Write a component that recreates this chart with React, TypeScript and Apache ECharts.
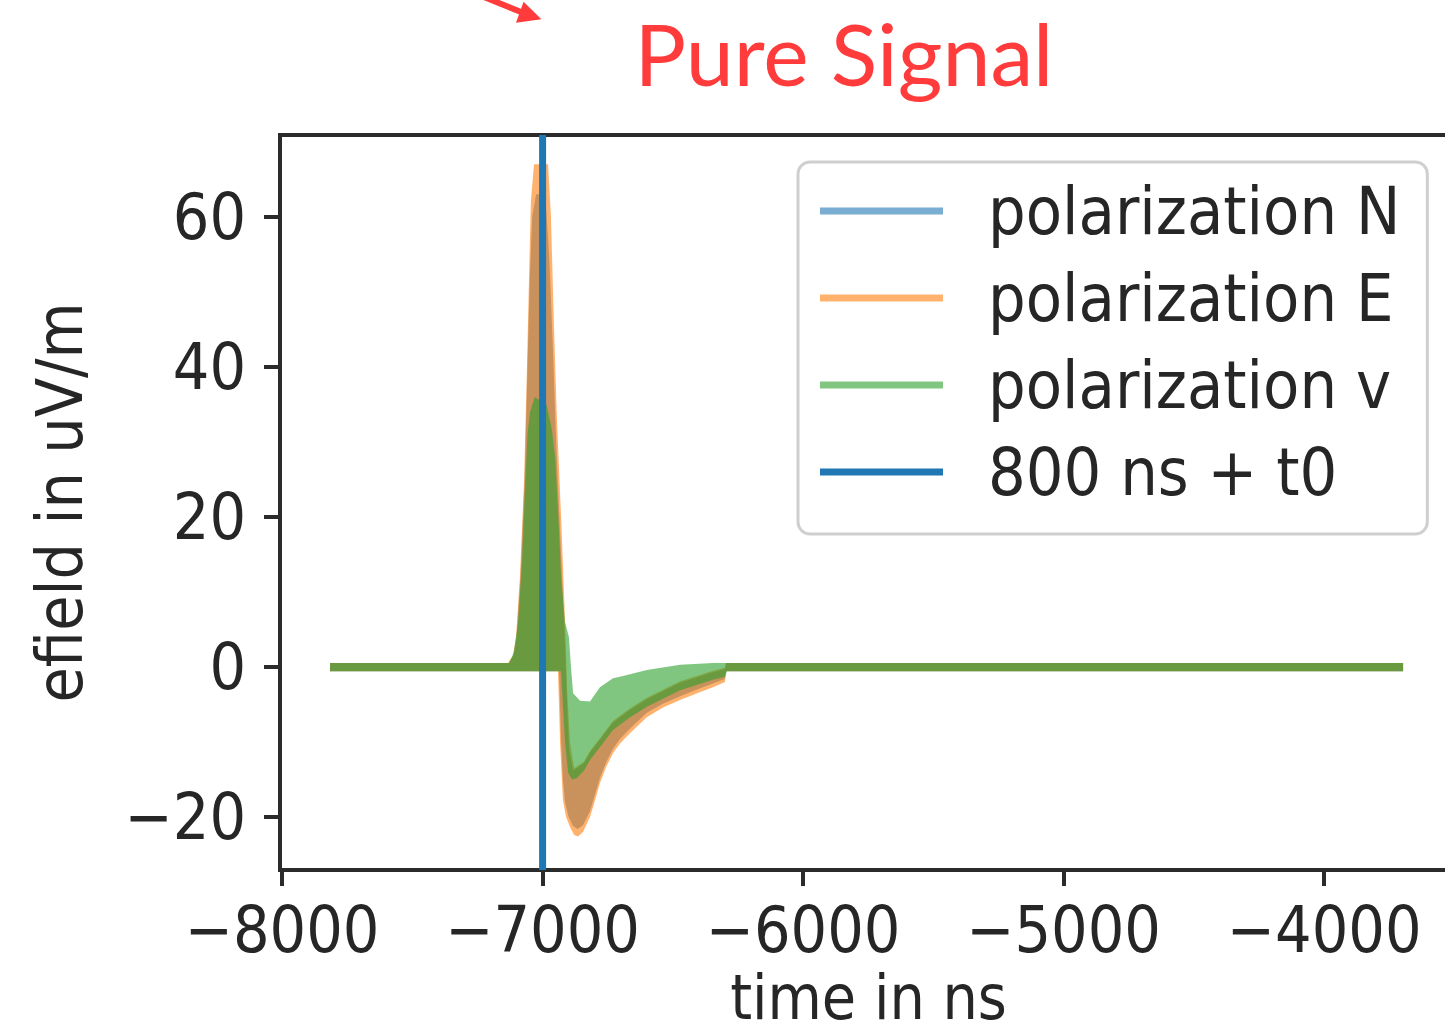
import React, { useEffect, useRef } from 'react';
import * as echarts from 'echarts';

const xTicks = [-8000, -7000, -6000, -5000, -4000];
const yTicks = [-20, 0, 20, 40, 60];
const xRange = [-8008, -3490];
const yRange = [-27.05, 70.9];
const markerTime = -7000;
const seriesNames = ['polarization N', 'polarization E', 'polarization v', '800 ns + t0'];
const seriesColors = ['rgba(31,119,180,0.6)', 'rgba(255,127,14,0.6)', 'rgba(44,160,44,0.6)', '#1f77b4'];

// outlines of each trace (upper edge and lower edge), time in ns, efield in uV/m
const nTop = [[-7816,0.55],[-7130,0.55],[-7112,1.5],[-7100,4],[-7085,12],[-7069,25],[-7058,40],[-7049,52],[-7040,60],[-7025,63],[-6990,63],[-6975,55],[-6960,42],[-6948,30],[-6933,18],[-6920,8],[-6912,1],[-6906,-5],[-6898,-11],[-6883,-13.8],[-6841,-12.8],[-6818,-11.4],[-6780,-9.7],[-6730,-7.4],[-6664,-5.7],[-6600,-4.3],[-6472,-2.1],[-6346,-0.7],[-6300,-0.3],[-6296,0.55],[-3697,0.55]];
const nBottom = [[-7816,-0.55],[-6937,-0.55],[-6933,-5],[-6929,-10],[-6922,-15],[-6914,-18],[-6900,-20],[-6883,-21.2],[-6866,-21.6],[-6845,-21.1],[-6818,-19.2],[-6799,-17],[-6780,-14.8],[-6757,-12.8],[-6730,-10.9],[-6703,-9.6],[-6664,-8.2],[-6600,-6.1],[-6538,-4.9],[-6472,-3.9],[-6407,-3.0],[-6346,-2.2],[-6300,-1.6],[-6296,-0.55],[-3697,-0.55]];

const eTop = [[-7816,0.55],[-7133,0.55],[-7114,1.5],[-7102,4],[-7087,12],[-7071,25],[-7060,40],[-7052,52],[-7045,62],[-7033,67],[-6979,67],[-6968,60],[-6956,45],[-6945,33],[-6929,20],[-6918,10],[-6910,2],[-6906,-3],[-6895,-10],[-6879,-13.5],[-6841,-12.6],[-6818,-11.2],[-6780,-9.5],[-6730,-7.2],[-6664,-5.5],[-6600,-4.1],[-6472,-1.9],[-6346,-0.5],[-6300,-0.1],[-6296,0.55],[-3697,0.55]];
const eBottom = [[-7816,-0.55],[-6941,-0.55],[-6937,-5],[-6933,-10],[-6926,-15],[-6922,-17.7],[-6910,-20],[-6895,-21.3],[-6879,-22.4],[-6864,-22.6],[-6845,-22],[-6818,-20],[-6799,-17.8],[-6780,-15.5],[-6757,-13.4],[-6730,-11.5],[-6703,-10.2],[-6664,-8.8],[-6600,-6.7],[-6538,-5.4],[-6472,-4.4],[-6407,-3.5],[-6346,-2.7],[-6300,-2.0],[-6296,-0.55],[-3697,-0.55]];

const vTop = [[-7816,0.55],[-7128,0.55],[-7110,2],[-7094,6],[-7079,14],[-7067,24],[-7058,31],[-7048,34],[-7030,36],[-6985,35],[-6966,32],[-6952,28],[-6941,21],[-6929,12],[-6914,6],[-6899,4],[-6891,0],[-6883,-3.5],[-6856,-4.5],[-6818,-4.6],[-6780,-2.7],[-6730,-1.5],[-6703,-1.3],[-6600,-0.4],[-6472,0.3],[-6346,0.55],[-3697,0.55]];
const vBottom = [[-7816,-0.55],[-6929,-0.55],[-6922,-5],[-6914,-10],[-6902,-14.1],[-6887,-15],[-6868,-14.8],[-6841,-13.8],[-6818,-12.4],[-6780,-10.7],[-6730,-8.4],[-6664,-6.7],[-6600,-5.3],[-6472,-3.1],[-6346,-1.7],[-6300,-1.3],[-6292,-0.55],[-3697,-0.55]];

const FONT = '"DejaVu Sans Condensed", "DejaVu Sans", sans-serif';
const INK = '#262626';
const SPINE = '#2b2b2b';

function fmt(v: number) {
  return String(v).replace('-', '\u2212');
}

function bandSeries(name: string, top: number[][], bottom: number[][], color: string, z: number) {
  const outline = top.concat(bottom.slice().reverse());
  return {
    type: 'custom',
    name,
    z,
    clip: true,
    silent: true,
    data: outline,
    encode: { x: 0, y: 1 },
    itemStyle: { color },
    renderItem: (params: any, api: any) => {
      if (params.dataIndex !== 0) return null;
      const pts = outline.map((p) => api.coord(p));
      return { type: 'polygon', shape: { points: pts }, style: { fill: color } };
    },
  };
}

export default function App() {
  const ref = useRef<HTMLDivElement>(null);
  useEffect(() => {
    if (!ref.current) return;
    const chart = echarts.init(ref.current, null, { renderer: 'svg' });
    const axisText = { fontFamily: FONT, fontSize: 64, color: INK, lineHeight: 64 };
    chart.setOption({
      animation: false,
      backgroundColor: '#ffffff',
      grid: {
        left: 280,
        top: 135,
        width: 1177,
        height: 735,
        show: true,
        borderColor: SPINE,
        borderWidth: 4,
        backgroundColor: 'transparent',
        containLabel: false,
        outerBoundsMode: 'none',
      },
      xAxis: {
        type: 'value',
        min: xRange[0],
        max: xRange[1],
        axisLine: { show: true, onZero: false, lineStyle: { color: SPINE, width: 4 } },
        axisTick: { show: true, length: 16, lineStyle: { color: SPINE, width: 4 }, customValues: xTicks },
        axisLabel: { ...axisText, customValues: xTicks, formatter: fmt, margin: 60, verticalAlign: 'middle' },
        splitLine: { show: false },
        name: 'time in ns',
        nameLocation: 'middle',
        nameGap: 124,
        nameTextStyle: { ...axisText, fontSize: 62, lineHeight: 48, align: 'center', verticalAlign: 'middle' },
      },
      yAxis: {
        type: 'value',
        min: yRange[0],
        max: yRange[1],
        axisLine: { show: true, onZero: false, lineStyle: { color: SPINE, width: 4 } },
        axisTick: { show: true, length: 16, lineStyle: { color: SPINE, width: 4 }, customValues: yTicks },
        axisLabel: { ...axisText, customValues: yTicks, formatter: fmt, margin: 34 },
        splitLine: { show: false },
        name: 'efield in uV/m',
        nameLocation: 'middle',
        nameRotate: 90,
        nameGap: 220,
        nameTextStyle: { ...axisText, align: 'center', verticalAlign: 'middle' },
      },
      legend: {
        orient: 'vertical',
        left: 798,
        top: 162,
        padding: [16, 27, 29, 22],
        itemGap: 21,
        itemWidth: 123,
        itemHeight: 7,
        icon: 'rect',
        selectedMode: false,
        backgroundColor: 'rgba(255,255,255,0.8)',
        borderColor: '#cfcfcf',
        borderWidth: 3,
        borderRadius: 12,
        textStyle: { fontFamily: FONT, fontSize: 66, color: INK, lineHeight: 66, padding: [0, 0, 0, 40] },
        data: seriesNames.map((name, i) => ({ name, itemStyle: { color: seriesColors[i] } })),
      },
      series: [
        bandSeries(seriesNames[0], nTop, nBottom, seriesColors[0], 2),
        bandSeries(seriesNames[1], eTop, eBottom, seriesColors[1], 3),
        bandSeries(seriesNames[2], vTop, vBottom, seriesColors[2], 4),
        {
          type: 'line',
          name: seriesNames[3],
          z: 6,
          data: [[markerTime, yRange[0]], [markerTime, yRange[1]]],
          symbol: 'none',
          silent: true,
          lineStyle: { color: seriesColors[3], width: 7 },
          itemStyle: { color: seriesColors[3] },
        },
      ],
      graphic: [
        {
          type: 'text',
          x: 844,
          y: 52,
          style: {
            text: 'Pure Signal',
            fontFamily: 'Lato, "Open Sans", sans-serif',
            fontSize: 86,
            fill: '#ff3b3b',
            align: 'center',
            verticalAlign: 'middle',
          },
        },
        {
          type: 'line',
          shape: { x1: 484, y1: -3, x2: 521, y2: 12 },
          style: { stroke: '#ff3b3b', lineWidth: 6 },
        },
        {
          type: 'polygon',
          shape: { points: [[523.6, 1.7], [516, 22.7], [541.4, 19.3]] },
          style: { fill: '#ff3b3b' },
        },
      ],
    });
    return () => chart.dispose();
  }, []);
  return (
    <div
      ref={ref}
      style={{ position: 'fixed', left: 0, top: 0, width: 1470, height: 1034, background: '#fff' }}
    />
  );
}
